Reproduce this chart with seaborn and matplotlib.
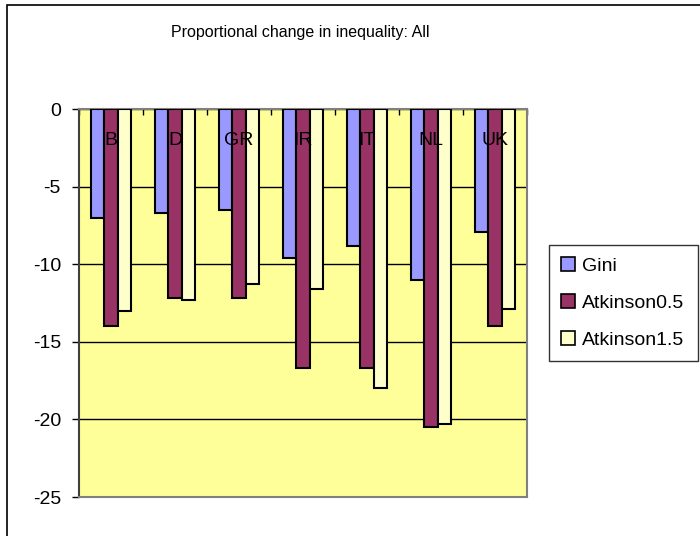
import matplotlib
matplotlib.use("Agg")
import matplotlib.pyplot as plt
import matplotlib.transforms as mtransforms
from matplotlib.patches import Patch, Rectangle
import seaborn as sns
import pandas as pd
import numpy as np

countries = ["B", "D", "GR", "IR", "IT", "NL", "UK"]
measures = ["Gini", "Atkinson0.5", "Atkinson1.5"]
gini = [-7.0, -6.7, -6.5, -9.6, -8.8, -11.0, -7.9]
atkinson05 = [-14.0, -12.2, -12.2, -16.7, -16.7, -20.5, -14.0]
atkinson15 = [-13.0, -12.3, -11.3, -11.6, -18.0, -20.3, -12.9]
colors = ["#9999FF", "#993366", "#FFFFCC"]
yticks = [0, -5, -10, -15, -20, -25]
title = "Proportional change in inequality: All"

df = pd.DataFrame({
    "country": countries * 3,
    "measure": [m for m in measures for _ in countries],
    "value": gini + atkinson05 + atkinson15,
})

sns.set_theme(style="white")
plt.rcParams["font.family"] = ["Liberation Sans", "DejaVu Sans"]

W, H = 700, 536
fig = plt.figure(figsize=(W / 100, H / 100), dpi=100)
fig.patch.set_facecolor("white")

# outer chart frame
fig.patches.append(Rectangle((7 / W, -0.1), 1.2, 1 - 5 / H + 0.1,
                             transform=fig.transFigure, fill=False,
                             edgecolor="black", linewidth=1.2))

ax = fig.add_axes([79 / W, 1 - 497 / H, 448 / W, 388 / H])
ax.set_facecolor("#FFFF99")

sns.barplot(data=df, x="country", y="value", hue="measure",
            order=countries, hue_order=measures, palette=colors,
            width=0.64, saturation=1, edgecolor="black", linewidth=1.5,
            errorbar=None, legend=False, ax=ax, zorder=3)

ax.set_ylim(-25, 0)
ax.set_xlim(-0.5, len(countries) - 0.5)
ax.set_xlabel("")
ax.set_ylabel("")

ax.set_yticks(yticks)
ax.set_yticklabels([str(v) for v in yticks])
ax.yaxis.grid(True, color="black", linewidth=1)
ax.xaxis.grid(False)
ax.set_axisbelow(True)
ax.tick_params(axis="y", left=True, direction="out", length=5, width=1,
               color="black", labelsize=14, labelcolor="black", pad=8)

ax.set_xticks(np.arange(len(countries) + 1) - 0.5)
ax.set_xticklabels([])
ax.tick_params(axis="x", bottom=False, top=True, direction="in", length=4,
               width=1, color="black", labelbottom=False, labeltop=False)

off = mtransforms.offset_copy(ax.get_xaxis_transform(), fig=fig, x=0, y=-23,
                              units="points")
for i, c in enumerate(countries):
    ax.text(i, 1, c, transform=off, ha="center", va="center", fontsize=14,
            color="black", zorder=5)

for s in ax.spines.values():
    s.set_color("#808080")
    s.set_linewidth(1.5)
ax.spines["left"].set_color("#404040")

fig.text(300 / W, 1 - 32 / H, title, ha="center", va="center", fontsize=11.5,
         color="black")

handles = [Patch(facecolor=c, edgecolor="black", linewidth=1.2) for c in colors]
leg = fig.legend(handles, measures, loc="upper left",
                 bbox_to_anchor=(549 / W, 1 - 361 / H, 149 / W, 116 / H),
                 bbox_transform=fig.transFigure, mode="expand",
                 frameon=True, fancybox=False, edgecolor="black",
                 fontsize=14, handlelength=0.7, handleheight=0.7,
                 handletextpad=0.35, labelspacing=1.0, borderpad=0.63,
                 borderaxespad=0)
leg.get_frame().set_linewidth(1.0)
for t in leg.get_texts():
    t.set_color("black")

fig.savefig("out.png", dpi=100)
